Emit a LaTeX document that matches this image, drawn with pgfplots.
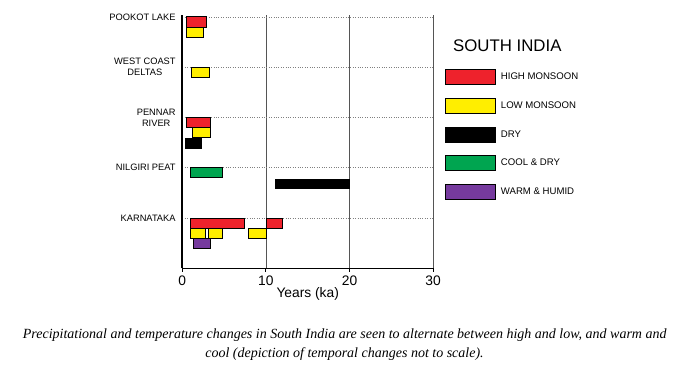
\documentclass[border=0pt]{standalone}
\usepackage{pgfplots}
\pgfplotsset{compat=1.18}
\usepackage{fontspec}
\setmainfont{Liberation Sans}
\newfontfamily\capfont{Liberation Serif}
\definecolor{hm}{RGB}{238,34,44}
\definecolor{lm}{RGB}{255,238,0}
\definecolor{cd}{RGB}{0,165,80}
\definecolor{wh}{RGB}{118,58,158}
\definecolor{gridg}{RGB}{85,85,85}
\begin{document}
\begin{tikzpicture}[x=1pt,y=1pt]
\path[use as bounding box] (0,0) rectangle (685,-369);
\begin{axis}[
  at={(182.3pt,-268.3pt)}, anchor=south west,
  scale only axis, width=250.8pt, height=253pt,
  xmin=0, xmax=30, ymin=0, ymax=5.03,
  axis x line*=bottom, axis y line*=left,
  x axis line style={line width=1.3pt,-},
  y axis line style={line width=1.8pt,-},
  xtick={0,10,20,30}, ytick={1,2,3,4,5},
  yticklabels={KARNATAKA, NILGIRI PEAT, {PENNAR\\RIVER}, {WEST COAST\\DELTAS}, POOKOT LAKE},
  xmajorgrids, ymajorgrids,
  x grid style={gridg, line width=0.7pt},
  y grid style={gray, dotted, line width=0.6pt},
  tick align=outside,
  major tick length=3.5pt,
  x tick style={black, line width=1pt},
  y tick style={draw=none},
  /pgf/number format/assume math mode=true,
  xticklabel style={font=\fontsize{13.8}{14}\selectfont, inner sep=0pt, yshift=-4pt},
  yticklabel style={font=\fontsize{9.3}{11}\selectfont, align=center, inner sep=0pt, xshift=-3pt},
  xlabel={Years (ka)},
  xlabel style={font=\fontsize{13.8}{14}\selectfont, inner sep=0pt, at={(axis description cs:0.5,0)}, anchor=base, yshift=-28.7pt},
  legend style={at={(1.0475,0.7877)}, anchor=north west, draw=none, fill=none, inner sep=0pt,
    row sep=13pt, column sep=5pt, font=\fontsize{9.6}{10}\selectfont, nodes={inner sep=0pt}},
  legend cell align=left,
  legend image code/.code={\draw[#1] (0pt,-7.5pt) rectangle (50pt,7.5pt);},
]
\addlegendimage{fill=hm, draw=black, line width=0.7pt}
\addlegendentry{HIGH MONSOON}
\addlegendimage{fill=lm, draw=black, line width=0.7pt}
\addlegendentry{LOW MONSOON}
\addlegendimage{fill=black, draw=black, line width=0.7pt}
\addlegendentry{DRY}
\addlegendimage{fill=cd, draw=black, line width=0.7pt}
\addlegendentry{COOL \& DRY}
\addlegendimage{fill=wh, draw=black, line width=0.7pt}
\addlegendentry{WARM \& HUMID}
% Pookot Lake
\addplot[fill=hm, draw=black, line width=0.7pt, forget plot] coordinates {(0.5,4.8) (2.9,4.8) (2.9,5) (0.5,5)} -- cycle;
\addplot[fill=lm, draw=black, line width=0.7pt, forget plot] coordinates {(0.5,4.6) (2.5,4.6) (2.5,4.8) (0.5,4.8)} -- cycle;
% West Coast Deltas
\addplot[fill=lm, draw=black, line width=0.7pt, forget plot] coordinates {(1.1,3.8) (3.2,3.8) (3.2,4) (1.1,4)} -- cycle;
% Pennar River
\addplot[fill=hm, draw=black, line width=0.7pt, forget plot] coordinates {(0.45,2.8) (3.4,2.8) (3.4,3) (0.45,3)} -- cycle;
\addplot[fill=lm, draw=black, line width=0.7pt, forget plot] coordinates {(1.25,2.6) (3.3,2.6) (3.3,2.8) (1.25,2.8)} -- cycle;
\addplot[fill=black, draw=black, line width=0.7pt, forget plot] coordinates {(0.35,2.39) (2.3,2.39) (2.3,2.59) (0.35,2.59)} -- cycle;
% Nilgiri Peat
\addplot[fill=cd, draw=black, line width=0.7pt, forget plot] coordinates {(1.0,1.8) (4.85,1.8) (4.85,2) (1.0,2)} -- cycle;
\addplot[fill=black, draw=black, line width=0.7pt, forget plot] coordinates {(11.1,1.58) (20,1.58) (20,1.77) (11.1,1.77)} -- cycle;
% Karnataka
\addplot[fill=hm, draw=black, line width=0.7pt, forget plot] coordinates {(1.0,0.8) (7.45,0.8) (7.45,1) (1.0,1)} -- cycle;
\addplot[fill=hm, draw=black, line width=0.7pt, forget plot] coordinates {(10,0.8) (12,0.8) (12,1) (10,1)} -- cycle;
\addplot[fill=lm, draw=black, line width=0.7pt, forget plot] coordinates {(1.0,0.6) (2.75,0.6) (2.75,0.8) (1.0,0.8)} -- cycle;
\addplot[fill=lm, draw=black, line width=0.7pt, forget plot] coordinates {(3.15,0.6) (4.85,0.6) (4.85,0.8) (3.15,0.8)} -- cycle;
\addplot[fill=lm, draw=black, line width=0.7pt, forget plot] coordinates {(7.95,0.6) (10,0.6) (10,0.8) (7.95,0.8)} -- cycle;
\addplot[fill=wh, draw=black, line width=0.7pt, forget plot] coordinates {(1.3,0.4) (3.3,0.4) (3.3,0.6) (1.3,0.6)} -- cycle;
\end{axis}
\node[anchor=west, inner sep=0pt, font=\fontsize{16.8}{18}\selectfont] at (453,-45.5) {SOUTH INDIA};
\node[anchor=base, inner sep=0pt, font=\capfont\itshape\fontsize{14}{19}\selectfont] at (344.7,-338) {Precipitational and temperature changes in South India are seen to alternate between high and low, and warm and};
\node[anchor=base, inner sep=0pt, font=\capfont\itshape\fontsize{14}{19}\selectfont] at (344.5,-357) {cool (depiction of temporal changes not to scale).};
\end{tikzpicture}
\end{document}
